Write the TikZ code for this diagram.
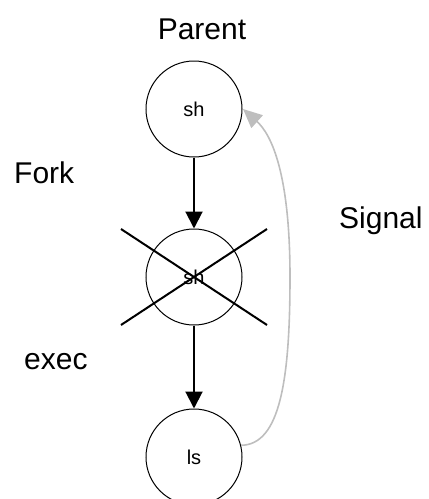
\documentclass[tikz,border=0pt]{standalone}
\usepackage{fontspec}
\setmainfont{Liberation Sans}
\usetikzlibrary{arrows.meta}
\definecolor{siggray}{RGB}{190,190,190}
\begin{document}
\begin{tikzpicture}[x=1pt,y=1pt,
 proc/.style={circle,draw,line width=1pt,minimum size=96pt,inner sep=0pt,font=\fontsize{20}{24}\selectfont},
 lbl/.style={font=\fontsize{30}{36}\selectfont,inner sep=0pt,anchor=base west},
 flow/.style={line width=2pt,-{Triangle[length=17pt,width=17pt]}},
 sig/.style={line width=1.6pt,color=siggray,-{Triangle[length=19pt,width=17pt]}},
 crossline/.style={line width=2pt}]
\useasboundingbox (0,0) rectangle (429,-499);
\node[proc] (sh1) at (194,-109) {sh};
\node[proc] (sh2) at (194,-277) {sh};
\node[proc] (ls) at (194,-457) {ls};
\node[lbl,anchor=base] (parent) at (202,-39) {Parent};
\node[lbl] (fork) at (14,-183) {Fork};
\node[lbl] (signal) at (339,-228) {Signal};
\node[lbl] (exec) at (24,-369) {exec};
\coordinate (c1) at (121,-229);
\coordinate (c2) at (267,-325);
\coordinate (c3) at (267,-229);
\coordinate (c4) at (121,-325);
\coordinate (sigmid) at (290,-277);
\coordinate (sigtip) at (243,-109);
\draw[crossline] (c1) -- (c2);
\draw[crossline] (c3) -- (c4);
\draw[flow] (sh1) -- (sh2);
\draw[flow] (sh2) -- (ls);
\draw[sig] (ls.14) .. controls (280,-445) and (290,-380) .. (sigmid) .. controls (290,-175) and (272,-135) .. (sigtip);
\end{tikzpicture}
\end{document}
